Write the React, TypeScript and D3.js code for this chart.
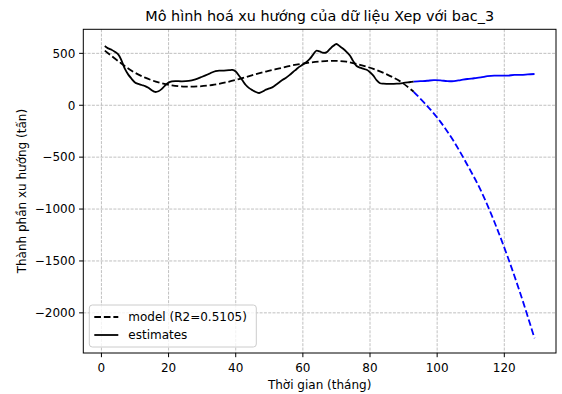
import React from "react";
import * as d3 from "d3";

// ---- data ----
const trainMonths = [1,2,3,4,5,6,7,8,9,10,11,12,13,14,15,16,17,18,19,20,21,22,24,26,28,30,32,34,36,38,39,40,41,42,43,44,45,46,47,48,49,50,51,52,53,54,55,56,57,58,59,60,61,62,63,64,65,66,67,68,69,70,71,72,73,74,75,76,77,78,79,80,81,82,83,84,86,88,90,92,93];
const trainEstimates = [571,548,535,515,490,430,350,295,255,220,206,195,185,168,145,128,135,158,192,218,230,233,230,234,250,275,302,330,333,338,340,325,285,240,195,165,145,128,118,132,150,162,175,198,222,245,265,290,318,345,372,392,415,445,485,525,518,506,510,540,570,590,568,545,515,480,425,378,362,352,342,318,285,240,212,208,206,208,215,224,228];

const testMonths = [93,95,97,99,101,103,105,107,109,111,113,115,117,119,121,123,125,127,129];
const testEstimates = [228,232,236,242,240,232,233,243,253,260,268,280,286,285,286,292,293,297,301];

const modelTrainMonths = [1,5,9,13,17,21,25,29,33,37,41,45,49,53,57,61,65,69,73,77,81,85,89,93];
const modelTrainValues = [526,425,332,266,220,192,180,182,195,220,252,290,325,355,385,407,421,428,420,390,350,298,230,130];
const modelTestMonths = [93,97,101,105,109,113,117,121,125,129];
const modelTestValues = [130,-5,-160,-350,-575,-820,-1120,-1460,-1835,-2245];

const xTicks = [0, 20, 40, 60, 80, 100, 120];
const yTicks = [-2000, -1500, -1000, -500, 0, 500];

const title = "Mô hình hoá xu hướng của dữ liệu Xep với bac_3";
const xLabel = "Thời gian (tháng)";
const yLabel = "Thành phần xu hướng (tấn)";
const legendLabels = ["model (R2=0.5105)", "estimates"];

// ---- layout ----
const W = 562, H = 394;
const L = 83.3, R = 556, T = 29.3, B = 353;
const FONT = "DejaVu Sans, sans-serif";

function fmt(v: number) {
  return v < 0 ? "\u2212" + Math.abs(v) : String(v);
}

export default function App() {
  const allX = [...trainMonths, ...testMonths];
  const allY = [...trainEstimates, ...testEstimates, ...modelTrainValues, ...modelTestValues];
  const [x0, x1] = d3.extent(allX) as [number, number];
  const [y0, y1] = d3.extent(allY) as [number, number];
  const mx = (x1 - x0) * 0.05, my = (y1 - y0) * 0.05;
  const x = d3.scaleLinear().domain([x0 - mx, x1 + mx]).range([L, R]);
  const y = d3.scaleLinear().domain([y0 - my, y1 + my]).range([B, T]);

  const line = d3
    .line<[number, number]>()
    .x((d) => x(d[0]))
    .y((d) => y(d[1]))
    .curve(d3.curveCatmullRom.alpha(0.5));

  const zip = (a: number[], b: number[]) => a.map((v, i) => [v, b[i]] as [number, number]);

  const lw = 1.8;
  const dash = `${3.7 * lw},${1.6 * lw}`;

  // legend geometry
  const lgX = L + 6, lgB = B - 6, lgW = 167, lgH = 42;
  const lgY = lgB - lgH;

  return (
    <svg
      width={W}
      height={H}
      style={{ position: "absolute", left: 0, top: 0, background: "#fff" }}
      fontFamily={FONT}
    >
      <rect x={0} y={0} width={W} height={H} fill="#fff" />
      {/* grid */}
      <g stroke="#b0b0b0" strokeWidth={0.8} strokeDasharray="3,1.3">
        {xTicks.map((t) => (
          <line key={"gx" + t} x1={x(t)} x2={x(t)} y1={T} y2={B} />
        ))}
        {yTicks.map((t) => (
          <line key={"gy" + t} x1={L} x2={R} y1={y(t)} y2={y(t)} />
        ))}
      </g>

      {/* series */}
      <g fill="none" strokeWidth={lw}>
        <path d={line(zip(modelTrainMonths, modelTrainValues)) || ""} stroke="#000" strokeDasharray={dash} />
        <path d={line(zip(trainMonths, trainEstimates)) || ""} stroke="#000" />
        <path d={line(zip(modelTestMonths, modelTestValues)) || ""} stroke="#0000ff" strokeDasharray={dash} />
        <path d={line(zip(testMonths, testEstimates)) || ""} stroke="#0000ff" />
      </g>

      {/* spines */}
      <rect x={L} y={T} width={R - L} height={B - T} fill="none" stroke="#000" strokeWidth={1} />

      {/* x ticks */}
      <g fontSize={12} fill="#000">
        {xTicks.map((t) => (
          <g key={"xt" + t}>
            <line x1={x(t)} x2={x(t)} y1={B} y2={B + 4.2} stroke="#000" strokeWidth={1} />
            <text x={x(t)} y={B + 19} textAnchor="middle">{fmt(t)}</text>
          </g>
        ))}
        {yTicks.map((t) => (
          <g key={"yt" + t}>
            <line x1={L - 4.2} x2={L} y1={y(t)} y2={y(t)} stroke="#000" strokeWidth={1} />
            <text x={L - 8} y={y(t)} dy="0.36em" textAnchor="end">{fmt(t)}</text>
          </g>
        ))}
      </g>

      {/* labels */}
      <text x={(L + R) / 2} y={389} textAnchor="middle" fontSize={12}>{xLabel}</text>
      <text
        transform={`translate(26,${(T + B) / 2}) rotate(-90)`}
        textAnchor="middle"
        fontSize={12}
      >
        {yLabel}
      </text>
      <text x={(L + R) / 2} y={21} textAnchor="middle" fontSize={14.4}>{title}</text>

      {/* legend */}
      <g>
        <rect x={lgX} y={lgY} width={lgW} height={lgH} rx={3} fill="#fff" fillOpacity={0.8} stroke="#cccccc" strokeWidth={1} />
        <line x1={lgX + 5} x2={lgX + 29} y1={lgY + 12} y2={lgY + 12} stroke="#000" strokeWidth={lw} strokeDasharray={dash} />
        <text x={lgX + 39} y={lgY + 12} dy="0.36em" fontSize={12}>{legendLabels[0]}</text>
        <line x1={lgX + 5} x2={lgX + 29} y1={lgY + 30} y2={lgY + 30} stroke="#000" strokeWidth={lw} />
        <text x={lgX + 39} y={lgY + 30} dy="0.36em" fontSize={12}>{legendLabels[1]}</text>
      </g>
    </svg>
  );
}
